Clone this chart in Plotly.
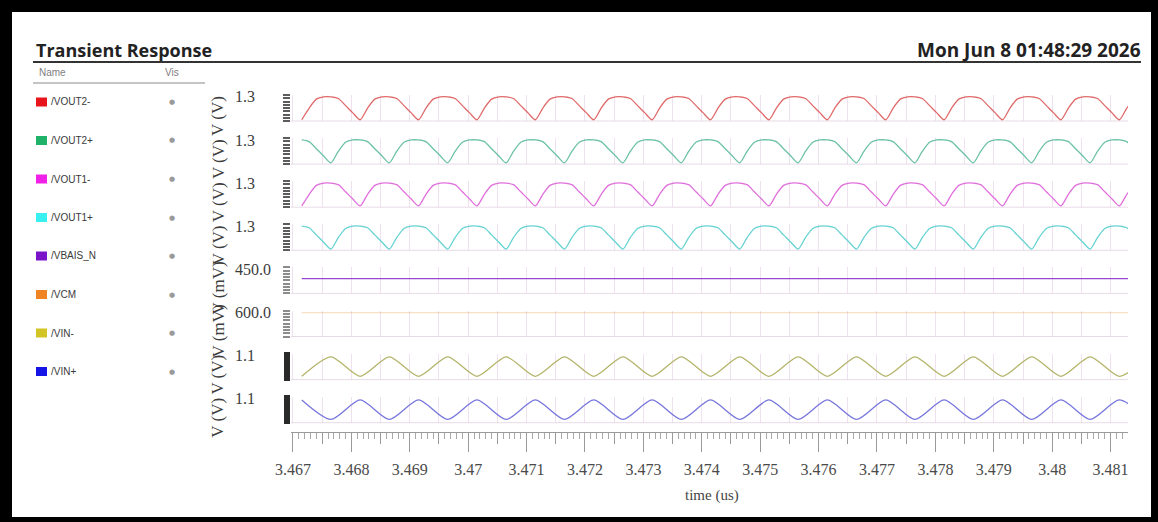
import numpy as np
import plotly.graph_objects as go

W, H = 1158, 522

# ---------------- data ----------------
SIGNALS = ["/VOUT2-", "/VOUT2+", "/VOUT1-", "/VOUT1+", "/VBAIS_N", "/VCM", "/VIN-", "/VIN+"]
LEGEND_COLORS = ["#e8141c", "#1fb36a", "#f020e8", "#38f0f0", "#7a14c8", "#f08424", "#d2c424", "#1414e6"]
TRACE_COLORS = ["#e06a6a", "#6cc2a6", "#e070dc", "#66d2d2", "#9448d0",
                "rgba(240,150,70,0.30)", "#b4b46a", "#7676dc"]
TOP_LABELS = ["1.3", "1.3", "1.3", "1.3", "450.0", "600.0", "1.1", "1.1"]
UNIT_LABELS = ["V (V)", "V (V)", "V (V)", "V (V)", "V (mV)", "V (mV)", "V (V)", "V (V)"]
Y_RANGES = [[0.88, 1.30], [0.88, 1.30], [0.88, 1.30], [0.88, 1.30],
            [449.0, 450.75], [598.9, 600.1], [0.96, 1.12], [0.96, 1.12]]

X_TICKS = [3.467, 3.468, 3.469, 3.470, 3.471, 3.472, 3.473, 3.474,
           3.475, 3.476, 3.477, 3.478, 3.479, 3.480, 3.481]
X_LABELS = ["3.467", "3.468", "3.469", "3.47", "3.471", "3.472", "3.473", "3.474",
            "3.475", "3.476", "3.477", "3.478", "3.479", "3.48", "3.481"]
X_RANGE = [3.466966, 3.481298]

# sample times (us)
T_OUT = np.round(3.46715 + 0.000125 * np.arange(115), 6)
T_IN = np.round(3.46715 + 0.0005 * np.arange(30), 6)
T_DC = [3.46715, 3.48140]

VOUT2_N = [
    0.900, 1.085, 1.233, 1.270, 1.270, 1.244, 1.129, 1.011,
    0.900, 1.085, 1.233, 1.270, 1.270, 1.244, 1.129, 1.011,
    0.900, 1.085, 1.233, 1.270, 1.270, 1.244, 1.129, 1.011,
    0.900, 1.085, 1.233, 1.270, 1.270, 1.244, 1.129, 1.011,
    0.900, 1.085, 1.233, 1.270, 1.270, 1.244, 1.129, 1.011,
    0.900, 1.085, 1.233, 1.270, 1.270, 1.244, 1.129, 1.011,
    0.900, 1.085, 1.233, 1.270, 1.270, 1.244, 1.129, 1.011,
    0.900, 1.085, 1.233, 1.270, 1.270, 1.244, 1.129, 1.011,
    0.900, 1.085, 1.233, 1.270, 1.270, 1.244, 1.129, 1.011,
    0.900, 1.085, 1.233, 1.270, 1.270, 1.244, 1.129, 1.011,
    0.900, 1.085, 1.233, 1.270, 1.270, 1.244, 1.129, 1.011,
    0.900, 1.085, 1.233, 1.270, 1.270, 1.244, 1.129, 1.011,
    0.900, 1.085, 1.233, 1.270, 1.270, 1.244, 1.129, 1.011,
    0.900, 1.085, 1.233, 1.270, 1.270, 1.244, 1.129, 1.011,
    0.900, 1.085, 1.233,
]
VOUT2_P = [
    1.270, 1.244, 1.129, 1.011, 0.900, 1.085, 1.233, 1.270,
    1.270, 1.244, 1.129, 1.011, 0.900, 1.085, 1.233, 1.270,
    1.270, 1.244, 1.129, 1.011, 0.900, 1.085, 1.233, 1.270,
    1.270, 1.244, 1.129, 1.011, 0.900, 1.085, 1.233, 1.270,
    1.270, 1.244, 1.129, 1.011, 0.900, 1.085, 1.233, 1.270,
    1.270, 1.244, 1.129, 1.011, 0.900, 1.085, 1.233, 1.270,
    1.270, 1.244, 1.129, 1.011, 0.900, 1.085, 1.233, 1.270,
    1.270, 1.244, 1.129, 1.011, 0.900, 1.085, 1.233, 1.270,
    1.270, 1.244, 1.129, 1.011, 0.900, 1.085, 1.233, 1.270,
    1.270, 1.244, 1.129, 1.011, 0.900, 1.085, 1.233, 1.270,
    1.270, 1.244, 1.129, 1.011, 0.900, 1.085, 1.233, 1.270,
    1.270, 1.244, 1.129, 1.011, 0.900, 1.085, 1.233, 1.270,
    1.270, 1.244, 1.129, 1.011, 0.900, 1.085, 1.233, 1.270,
    1.270, 1.244, 1.129, 1.011, 0.900, 1.085, 1.233, 1.270,
    1.270, 1.244, 1.129,
]
VOUT1_N = [
    0.900, 1.085, 1.233, 1.270, 1.270, 1.244, 1.129, 1.011,
    0.900, 1.085, 1.233, 1.270, 1.270, 1.244, 1.129, 1.011,
    0.900, 1.085, 1.233, 1.270, 1.270, 1.244, 1.129, 1.011,
    0.900, 1.085, 1.233, 1.270, 1.270, 1.244, 1.129, 1.011,
    0.900, 1.085, 1.233, 1.270, 1.270, 1.244, 1.129, 1.011,
    0.900, 1.085, 1.233, 1.270, 1.270, 1.244, 1.129, 1.011,
    0.900, 1.085, 1.233, 1.270, 1.270, 1.244, 1.129, 1.011,
    0.900, 1.085, 1.233, 1.270, 1.270, 1.244, 1.129, 1.011,
    0.900, 1.085, 1.233, 1.270, 1.270, 1.244, 1.129, 1.011,
    0.900, 1.085, 1.233, 1.270, 1.270, 1.244, 1.129, 1.011,
    0.900, 1.085, 1.233, 1.270, 1.270, 1.244, 1.129, 1.011,
    0.900, 1.085, 1.233, 1.270, 1.270, 1.244, 1.129, 1.011,
    0.900, 1.085, 1.233, 1.270, 1.270, 1.244, 1.129, 1.011,
    0.900, 1.085, 1.233, 1.270, 1.270, 1.244, 1.129, 1.011,
    0.900, 1.085, 1.233,
]
VOUT1_P = [
    1.270, 1.244, 1.129, 1.011, 0.900, 1.085, 1.233, 1.270,
    1.270, 1.244, 1.129, 1.011, 0.900, 1.085, 1.233, 1.270,
    1.270, 1.244, 1.129, 1.011, 0.900, 1.085, 1.233, 1.270,
    1.270, 1.244, 1.129, 1.011, 0.900, 1.085, 1.233, 1.270,
    1.270, 1.244, 1.129, 1.011, 0.900, 1.085, 1.233, 1.270,
    1.270, 1.244, 1.129, 1.011, 0.900, 1.085, 1.233, 1.270,
    1.270, 1.244, 1.129, 1.011, 0.900, 1.085, 1.233, 1.270,
    1.270, 1.244, 1.129, 1.011, 0.900, 1.085, 1.233, 1.270,
    1.270, 1.244, 1.129, 1.011, 0.900, 1.085, 1.233, 1.270,
    1.270, 1.244, 1.129, 1.011, 0.900, 1.085, 1.233, 1.270,
    1.270, 1.244, 1.129, 1.011, 0.900, 1.085, 1.233, 1.270,
    1.270, 1.244, 1.129, 1.011, 0.900, 1.085, 1.233, 1.270,
    1.270, 1.244, 1.129, 1.011, 0.900, 1.085, 1.233, 1.270,
    1.270, 1.244, 1.129, 1.011, 0.900, 1.085, 1.233, 1.270,
    1.270, 1.244, 1.129,
]
VBAIS_N = [450.0, 450.0]          # mV
VCM = [600.0, 600.0]              # mV
VIN_N = [0.98, 1.10, 0.98, 1.10, 0.98, 1.10, 0.98, 1.10, 0.98, 1.10,
         0.98, 1.10, 0.98, 1.10, 0.98, 1.10, 0.98, 1.10, 0.98, 1.10,
         0.98, 1.10, 0.98, 1.10, 0.98, 1.10, 0.98, 1.10, 0.98, 1.10]
VIN_P = [1.10, 0.98, 1.10, 0.98, 1.10, 0.98, 1.10, 0.98, 1.10, 0.98,
         1.10, 0.98, 1.10, 0.98, 1.10, 0.98, 1.10, 0.98, 1.10, 0.98,
         1.10, 0.98, 1.10, 0.98, 1.10, 0.98, 1.10, 0.98, 1.10, 0.98]

SERIES = [(T_OUT, VOUT2_N), (T_OUT, VOUT2_P), (T_OUT, VOUT1_N), (T_OUT, VOUT1_P),
          (T_DC, VBAIS_N), (T_DC, VCM), (T_IN, VIN_N), (T_IN, VIN_P)]
SHAPES_LINE = ["spline", "spline", "spline", "spline", "linear", "linear", "spline", "spline"]

# ---------------- layout helpers ----------------
def px(x):
    return x / W

def py(y):
    return 1 - y / H

def sid(n):
    return "" if n == 1 else str(n)

STRIP_TOP0, STRIP_STEP, STRIP_H = 95.0, 43.1, 26.0
X_LEFT, X_RIGHT = 291.0, 1128.0
BAR_COLORS = ["#5c5c5c"] * 4 + ["#8c8c8c"] * 2 + ["#2a2a2a"] * 2
BAR_N = [9, 9, 9, 9, 9, 9, 14, 14]
BAR_LEN = [7, 7, 7, 7, 7, 7, 6, 6]
GRID = "rgba(225,200,225,0.55)"
SERIF = "Liberation Serif"

fig = go.Figure()
layout = dict(width=W, height=H, margin=dict(l=0, r=0, t=0, b=0, pad=0),
              paper_bgcolor="white", plot_bgcolor="white", showlegend=False)

shapes = []
annotations = []

for i, name in enumerate(SIGNALS):
    n = i + 1
    s = sid(n)
    t, v = SERIES[i]
    fig.add_trace(go.Scatter(
        x=t, y=v, mode="lines", name=name,
        line=dict(color=TRACE_COLORS[i], width=1.3, shape=SHAPES_LINE[i], smoothing=0.7),
        xaxis=f"x{s}", yaxis=f"y{s}", hoverinfo="skip"))

    top = STRIP_TOP0 + STRIP_STEP * i
    lo, hi = Y_RANGES[i]
    xa = dict(domain=[px(X_LEFT), px(X_RIGHT)], range=X_RANGE, anchor=f"y{s}",
              showticklabels=False, ticks="", showgrid=True, tick0=3.467, dtick=0.0005,
              gridcolor=GRID, gridwidth=1, zeroline=False, showline=False,
              fixedrange=True, automargin=False)
    if n == 8:
        xa.update(anchor="free", position=py(432), showline=True, linecolor="#9a9a9a",
                  linewidth=1, ticks="outside", ticklen=11, tickcolor="#9a9a9a",
                  tickwidth=1,
                  minor=dict(dtick=0.0001, tick0=3.467, ticks="outside", ticklen=6,
                             tickcolor="#a8a8a8", tickwidth=1, showgrid=False))
    layout[f"xaxis{s}"] = xa
    layout[f"yaxis{s}"] = dict(
        domain=[py(top + STRIP_H), py(top)], range=[lo, hi], anchor=f"x{s}",
        tickmode="array", tickvals=list(np.linspace(lo, hi, BAR_N[i])),
        ticks="outside", ticklen=BAR_LEN[i], tickwidth=2 if BAR_N[i] < 12 else 2.5,
        tickcolor=BAR_COLORS[i], showticklabels=False, showgrid=False,
        zeroline=False, showline=False, fixedrange=True, automargin=False)

    # faint strip baseline
    shapes.append(dict(type="line", xref=f"x{s} domain", yref=f"y{s} domain",
                       x0=0, x1=1, y0=0, y1=0,
                       line=dict(color="rgba(215,195,215,0.6)", width=1), layer="below"))

    # axis top value label
    annotations.append(dict(text=TOP_LABELS[i], xref="paper", yref=f"y{s} domain",
                            x=px(233), y=1, xanchor="left", yanchor="middle", yshift=-2,
                            showarrow=False, font=dict(family=SERIF, size=16, color="#3c3c3c")))
    # rotated unit label
    annotations.append(dict(text=UNIT_LABELS[i], xref="paper", yref=f"y{s} domain",
                            x=px(218), y=0.5, xanchor="center", yanchor="middle", yshift=-8,
                            textangle=-90, showarrow=False,
                            font=dict(family=SERIF, size=17, color="#3c3c3c")))

    # legend panel
    ry = 102 + 38.5 * i
    shapes.append(dict(type="rect", xref="paper", yref="paper",
                       x0=px(36), x1=px(47), y0=py(ry + 4.5), y1=py(ry - 4.5),
                       fillcolor=LEGEND_COLORS[i], line=dict(width=0)))
    annotations.append(dict(text=name, xref="paper", yref="paper", x=px(49), y=py(ry),
                            xanchor="left", yanchor="middle", showarrow=False,
                            font=dict(family="Liberation Sans", size=10, color="#3a3a3a")))
    annotations.append(dict(text="●", xref="paper", yref="paper", x=px(172), y=py(ry),
                            xanchor="center", yanchor="middle", showarrow=False,
                            font=dict(family="DejaVu Sans", size=7, color="#9a9a9a")))

# major x ticks with labels (overlay on the bottom axis)
fig.add_trace(go.Scatter(x=[None], y=[None], xaxis="x9", yaxis="y8",
                         showlegend=False, hoverinfo="skip"))
layout["xaxis9"] = dict(overlaying="x8", anchor="free", position=py(432), range=X_RANGE,
                        tickmode="array", tickvals=X_TICKS, ticktext=X_LABELS,
                        ticks="outside", ticklen=19, tickcolor="#9a9a9a", tickwidth=1,
                        showgrid=False, showline=False, zeroline=False,
                        ticklabelstandoff=4,
                        tickfont=dict(family=SERIF, size=16, color="#4a4a4a"),
                        fixedrange=True, automargin=False)

# headers
annotations += [
    dict(text="<b>Transient Response</b>", xref="paper", yref="paper", x=px(34), y=py(50),
         xanchor="left", yanchor="middle", showarrow=False,
         font=dict(family="Open Sans", size=18, color="#222222")),
    dict(text="<b>Mon Jun 8 01:48:29 2026</b>", xref="paper", yref="paper", x=px(1143), y=py(50),
         xanchor="right", yanchor="middle", showarrow=False,
         font=dict(family="Open Sans", size=19, color="#222222")),
    dict(text="Name", xref="paper", yref="paper", x=px(37), y=py(73),
         xanchor="left", yanchor="middle", showarrow=False,
         font=dict(family="Liberation Sans", size=10, color="#808080")),
    dict(text="Vis", xref="paper", yref="paper", x=px(163), y=py(73),
         xanchor="left", yanchor="middle", showarrow=False,
         font=dict(family="Liberation Sans", size=10, color="#808080")),
    dict(text="time (us)", xref="paper", yref="paper", x=px(712), y=py(495),
         xanchor="center", yanchor="middle", showarrow=False,
         font=dict(family=SERIF, size=15, color="#444444")),
]

# frame and rules
def prect(x0, y0, x1, y1, color):
    return dict(type="rect", xref="paper", yref="paper", x0=px(x0), x1=px(x1),
                y0=py(y1), y1=py(y0), fillcolor=color, line=dict(width=0), layer="above")

shapes += [
    prect(0, 0, W, 12, "#000000"),
    prect(0, 0, 12, H, "#000000"),
    prect(0, 517, W, H, "#000000"),
    prect(1151, 0, W, H, "#000000"),
    dict(type="line", xref="paper", yref="paper", x0=px(33), x1=px(1141), y0=py(62), y1=py(62),
         line=dict(color="#333333", width=2)),
    dict(type="line", xref="paper", yref="paper", x0=px(33), x1=px(205), y0=py(83), y1=py(83),
         line=dict(color="#8a8a8a", width=1)),
]

layout["shapes"] = shapes
layout["annotations"] = annotations
fig.update_layout(**layout)
fig.write_html(
    "out.html",
    config={"displayModeBar": False, "staticPlot": True},
    post_script="document.body.style.margin='0';document.body.style.padding='0';"
                "document.body.style.overflow='hidden';",
)
